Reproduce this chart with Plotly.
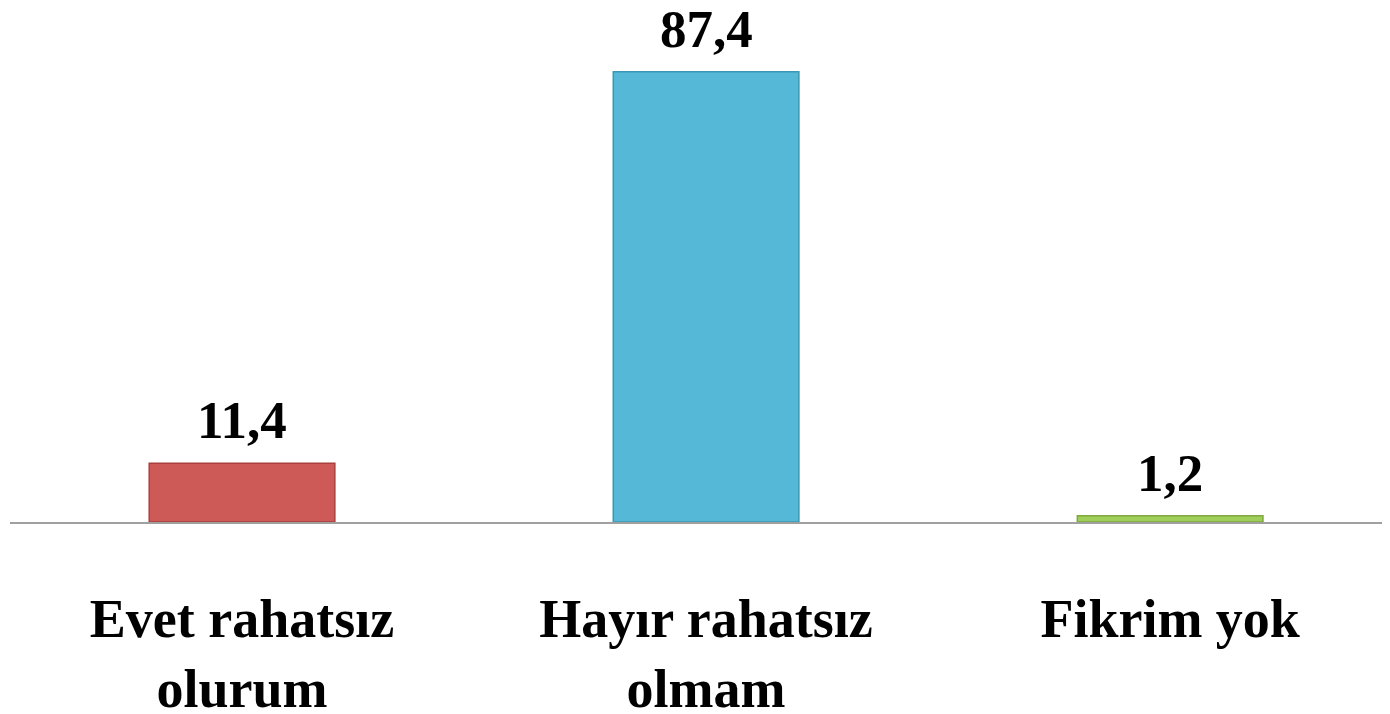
import plotly.graph_objects as go

categories = ["Evet rahatsız<br>olurum", "Hayır rahatsız<br>olmam", "Fikrim yok"]
values = [11.4, 87.4, 1.2]
colors = ["#CD5A57", "#55B8D6", "#9FCF5A"]
edge_colors = ["#A8403D", "#3A98B4", "#7FA83E"]

x_pos = list(range(len(categories)))
serif = "Liberation Serif"

fig = go.Figure()

fig.add_trace(go.Bar(
    x=x_pos,
    y=values,
    width=0.4,
    marker=dict(color=colors, line=dict(color=edge_colors, width=1.5)),
    showlegend=False,
))

# value labels above bars
for xi, v in zip(x_pos, values):
    fig.add_annotation(
        x=xi, y=v,
        text="<b>" + f"{v:.1f}".replace(".", ",") + "</b>",
        showarrow=False,
        yanchor="middle",
        yshift=43,
        font=dict(family=serif, size=53, color="black"),
    )

fig.update_layout(
    width=1390,
    height=714,
    margin=dict(l=2, r=0, t=0, b=200, autoexpand=False),
    plot_bgcolor="white",
    paper_bgcolor="white",
    xaxis=dict(
        range=[-0.5, 2.491],
        tickvals=x_pos,
        ticktext=["<b>" + c + "</b>" for c in categories],
        tickfont=dict(family=serif, size=54, color="black"),
        ticks="",
        showgrid=False,
        zeroline=False,
        showline=True,
        linecolor="#A0A0A0",
        linewidth=2,
        automargin=False,
        ticklabelstandoff=48,
    ),
    yaxis=dict(
        range=[0, 99.8],
        visible=False,
        showgrid=False,
        zeroline=False,
        automargin=False,
    ),
)

fig.write_html("out.html")
